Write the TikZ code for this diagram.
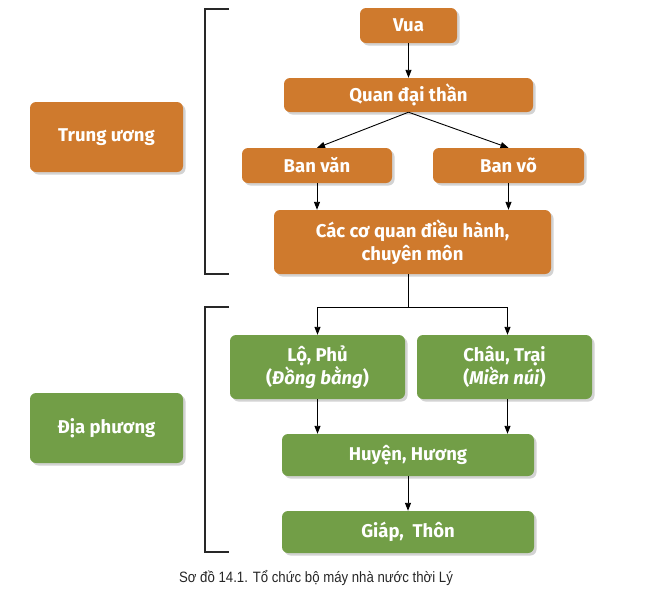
\documentclass[tikz,border=0pt]{standalone}
\usepackage{fontspec}
\setmainfont{Fira Sans}
\newfontfamily\capfont[FakeStretch=0.88]{Liberation Sans}
\usetikzlibrary{arrows.meta,shadows}
\definecolor{orangebox}{RGB}{207,122,45}
\definecolor{greenbox}{RGB}{114,158,71}
\definecolor{brk}{RGB}{40,40,40}
\tikzset{
  box/.style={rounded corners=6pt, text=white, font=\fontsize{18.5}{23.5}\selectfont\bfseries, align=center, inner sep=0pt,
    drop shadow={opacity=0.35, shadow xshift=2.5pt, shadow yshift=-2.5pt}},
  obox/.style={box, fill=orangebox},
  gbox/.style={box, fill=greenbox},
  conn/.style={draw=black, line width=0.9pt, -{Triangle[length=8pt,width=6pt]}},
  plain/.style={draw=black, line width=0.9pt},
  bracket/.style={draw=brk, line width=1.8pt}
}
\begin{document}
\begin{tikzpicture}[x=1pt,y=-1pt]
\useasboundingbox (0,0) rectangle (657,611);
% central
\node[obox, minimum width=97pt, minimum height=35pt] (vua) at (408.5,25.5) {Vua};
\node[obox, minimum width=249pt, minimum height=34pt] (qdt) at (408.5,95) {Quan đại thần};
\node[obox, minimum width=150pt, minimum height=35pt] (bv) at (317,165.5) {Ban văn};
\node[obox, minimum width=151pt, minimum height=35pt] (bvo) at (508.5,165.5) {Ban võ};
\node[obox, minimum width=277pt, minimum height=64pt] (cq) at (412.5,242) {Các cơ quan điều hành,\\chuyên môn};
\node[obox, minimum width=153pt, minimum height=70pt] (tu) at (106.5,137) {Trung ương};
% local
\node[gbox, minimum width=175pt, minimum height=64pt] (lp) at (317.5,367) {Lộ, Phủ\\(\textit{Đồng bằng})};
\node[gbox, minimum width=175pt, minimum height=64pt] (ct) at (504.5,367) {Châu, Trại\\(\textit{Miền núi})};
\node[gbox, minimum width=252pt, minimum height=42pt] (hh) at (408,455) {Huyện, Hương};
\node[gbox, minimum width=252pt, minimum height=42pt] (gt) at (408,532) {Giáp,\ \ Thôn};
\node[gbox, minimum width=153pt, minimum height=70pt] (dp) at (106.5,428) {Địa phương};
% connectors
\draw[conn] (vua.south) -- (qdt.north);
\draw[conn] (qdt.south) -- (bv.north);
\draw[conn] (qdt.south) -- (bvo.north);
\draw[conn] (bv.south) -- (bv.south |- cq.north);
\draw[conn] (bvo.south) -- (bvo.south |- cq.north);
\coordinate (fork) at (408.5,307);
\draw[plain] (fork |- cq.south) -- (fork);
\draw[conn] (fork) -| (lp.north);
\draw[conn] (fork) -| ([xshift=3pt]ct.north);
\draw[conn] (lp.south) -- (lp.south |- hh.north);
\draw[conn] ([xshift=3pt]ct.south) -- ([xshift=3pt]ct.south |- hh.north);
\draw[conn] (hh.south) -- (gt.north);
% brackets
\draw[bracket] (229,9) -- (205,9) -- (205,274) -- (229,274);
\draw[bracket] (229,307) -- (205,307) -- (205,552) -- (229,552);
% caption
\node[font=\capfont\fontsize{15}{17}\selectfont, text=black!85] (cap) at (316,578) {Sơ đồ 14.1. Tổ chức bộ máy nhà nước thời Lý};
\end{tikzpicture}
\end{document}
